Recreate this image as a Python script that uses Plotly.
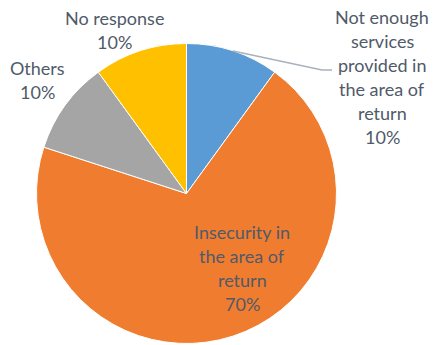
import plotly.graph_objects as go

# Reasons for not returning, share of responses
categories = ["Not enough services provided in the area of return",
              "Insecurity in the area of return",
              "Others",
              "No response"]
values = [10, 70, 10, 10]
colors = ["#5B9BD5", "#F07D2F", "#A5A5A5", "#FFC000"]

W, H = 433, 345
TEXT = "#505a69"
FONT = "Lato"


def px(x):
    return x / W


def py(y):
    return 1 - y / H


fig = go.Figure(go.Pie(
    labels=categories,
    values=values,
    sort=False,
    direction="clockwise",
    rotation=0,
    marker=dict(colors=colors, line=dict(color="white", width=1)),
    textinfo="none",
    hoverinfo="label+percent",
    domain=dict(x=[px(36.5), px(336.5)], y=[py(343.5), py(43.5)]),
    showlegend=False,
))


def pct(v):
    return f"{round(100 * v / sum(values))}%"


# Label lines: (text lines, centre x, first line centre y)
labels = [
    (["Not enough", "services", "provided in", "the area of", "return", pct(values[0])], 382, 17),
    (["Insecurity in", "the area of", "return", pct(values[1])], 242, 232),
    (["Others", pct(values[2])], 37, 68),
    (["No response", pct(values[3])], 115, 18),
]
LINE = 24
annotations = []
for lines, cx, cy in labels:
    for i, t in enumerate(lines):
        annotations.append(dict(
            x=px(cx), y=py(cy + i * LINE), xref="paper", yref="paper",
            text=t, showarrow=False, xanchor="center", yanchor="middle",
            font=dict(family=FONT, size=18, color=TEXT),
        ))

# leader line for the small blue slice
leader = dict(
    type="path", xref="paper", yref="paper",
    path=f"M {px(233)},{py(51)} L {px(322)},{py(70)} L {px(332)},{py(70)}",
    line=dict(color="#a8b1be", width=1.5),
)

fig.update_layout(
    width=W, height=H,
    margin=dict(l=0, r=0, t=0, b=0),
    paper_bgcolor="white",
    plot_bgcolor="white",
    annotations=annotations,
    shapes=[leader],
)

fig.write_html("out.html")
